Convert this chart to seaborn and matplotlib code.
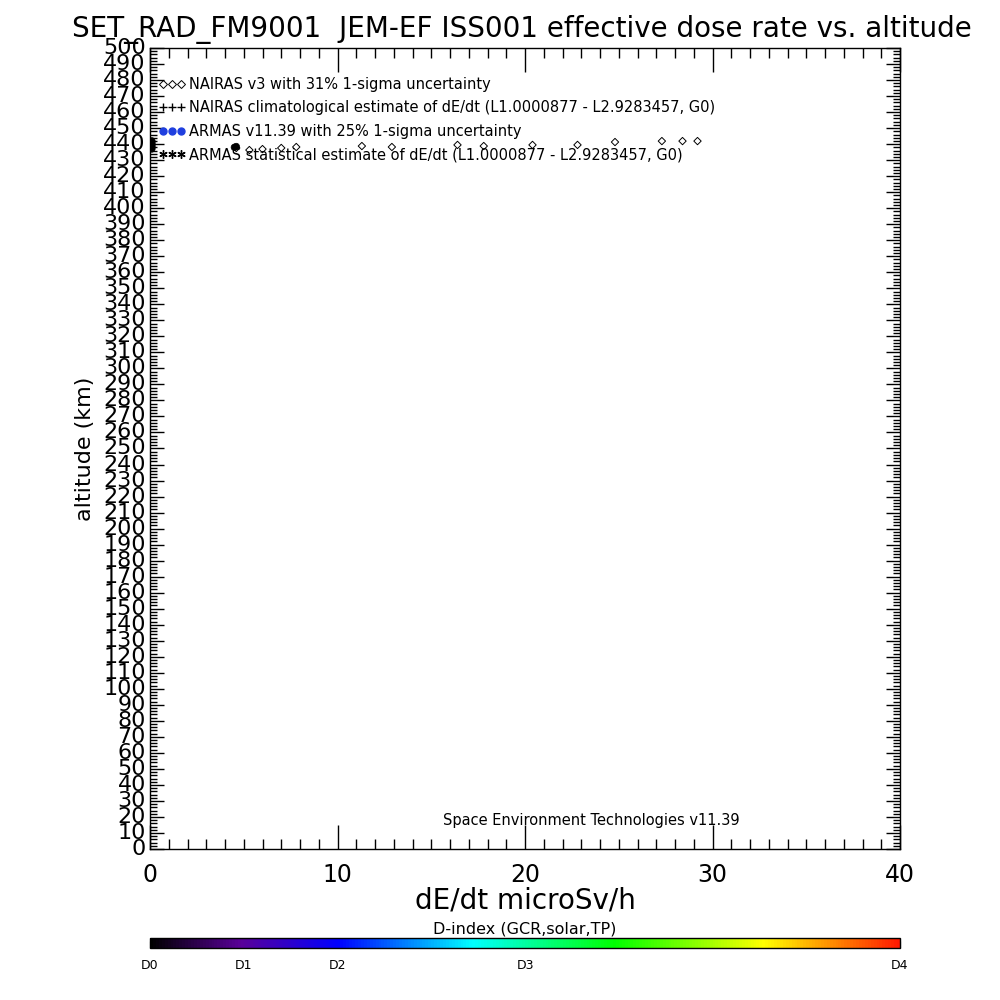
import numpy as np
import pandas as pd
import matplotlib
matplotlib.use("Agg")
import matplotlib.pyplot as plt
import seaborn as sns
from matplotlib.lines import Line2D
from matplotlib.colors import LinearSegmentedColormap, Normalize
from matplotlib.ticker import MultipleLocator
import matplotlib.cm as cm

# ---- data ----
nairas_dose = [4.6, 5.3, 6.0, 7.0, 7.8, 11.3, 12.9, 16.4, 17.8, 20.4, 22.8, 24.8, 27.3, 28.4, 29.2]
nairas_alt = [437.6, 436.3, 436.9, 437.6, 438.2, 438.8, 438.2, 439.5, 438.8, 439.5, 439.5, 441.3, 441.9, 441.9, 441.9]
armas_dose = [0.1, 0.1, 0.1, 0.1, 0.1, 0.1, 4.5, 4.6]
armas_alt = [437.0, 438.0, 439.0, 440.0, 441.0, 442.0, 438.0, 438.5]
armas_dindex = [0, 0, 0, 0, 0, 0, 0, 0]

legend_labels = [
    "NAIRAS v3 with 31% 1-sigma uncertainty",
    "NAIRAS climatological estimate of dE/dt (L1.0000877 - L2.9283457, G0)",
    "ARMAS v11.39 with 25% 1-sigma uncertainty",
    "ARMAS statistical estimate of dE/dt (L1.0000877 - L2.9283457, G0)",
]
cbar_tick_labels = ["D0", "D1", "D2", "", "D3", "", "", "", "D4"]

title = "SET_RAD_FM9001  JEM-EF ISS001 effective dose rate vs. altitude"

sns.set_theme(style="white")
plt.rcParams["font.family"] = ["DejaVu Sans"]
plt.rcParams.update({"text.color": "black", "axes.labelcolor": "black",
                     "xtick.color": "black", "ytick.color": "black"})

fig = plt.figure(figsize=(10, 10), dpi=100)
ax = fig.add_axes([0.15, 0.151, 0.75, 0.801])

cmap = LinearSegmentedColormap.from_list(
    "dindex",
    [(0.0, (0, 0, 0)), (0.12, (0.35, 0.0, 0.6)), (0.25, (0.0, 0.0, 1.0)),
     (0.43, (0.0, 1.0, 1.0)), (0.62, (0.0, 1.0, 0.0)), (0.82, (1.0, 1.0, 0.0)),
     (0.9, (1.0, 0.6, 0.0)), (1.0, (1.0, 0.1, 0.0))])
norm = Normalize(0, 8)

dfn = pd.DataFrame({"dose": nairas_dose, "alt": nairas_alt})
dfa = pd.DataFrame({"dose": armas_dose, "alt": armas_alt, "d": armas_dindex})

sns.scatterplot(data=dfa, x="dose", y="alt", ax=ax, marker="o", s=22,
                color=[cmap(norm(v)) for v in armas_dindex], edgecolor="black",
                linewidth=0.5, legend=False, zorder=3)
sns.scatterplot(data=dfn, x="dose", y="alt", ax=ax, marker="D", s=14,
                facecolor="none", edgecolor="black", linewidth=0.7,
                legend=False, zorder=4)

ax.set_xlim(0, 40)
ax.set_ylim(0, 500)
ax.xaxis.set_major_locator(MultipleLocator(10))
ax.xaxis.set_minor_locator(MultipleLocator(1))
ax.yaxis.set_major_locator(MultipleLocator(10))
ax.yaxis.set_minor_locator(MultipleLocator(2))
ax.tick_params(axis="x", which="major", direction="in", length=17, width=1,
               top=True, bottom=True, labelsize=17, pad=10, color="black")
ax.tick_params(axis="x", which="minor", direction="in", length=7, width=1,
               top=True, bottom=True, color="black")
ax.tick_params(axis="y", which="major", direction="in", length=10, width=1,
               left=True, right=True, labelsize=16, pad=3, color="black")
ax.tick_params(axis="y", which="minor", direction="in", length=5, width=1,
               left=True, right=True, color="black")
for lab in ax.get_yticklabels():
    lab.set_verticalalignment("center")
for s in ax.spines.values():
    s.set_color("black")
    s.set_linewidth(1)

ax.set_xlabel("dE/dt microSv/h", fontsize=20, labelpad=0)
ax.set_ylabel("altitude (km)", fontsize=16, labelpad=6)
ax.grid(False)

handles = [
    Line2D([], [], marker="D", markersize=4, markerfacecolor="none",
           markeredgecolor="black", markeredgewidth=0.7, linestyle="none"),
    Line2D([], [], marker="+", markersize=6, color="black", linestyle="none"),
    Line2D([], [], marker="o", markersize=5, color="#1f3fdf", linestyle="none"),
    Line2D([], [], marker=(6, 2, 0), markersize=6, color="black", linestyle="none"),
]
ax.legend(handles, legend_labels, loc="upper left", bbox_to_anchor=(0.0, 0.975),
          frameon=False, numpoints=3, handlelength=1.8, handletextpad=0.3,
          labelspacing=0.58, borderaxespad=0.2, fontsize=10.5)

ax.text(0.589, 0.036, "Space Environment Technologies v11.39", transform=ax.transAxes,
        fontsize=10.5, ha="center", va="center")

fig.text(0.522, 0.97, title, fontsize=20, ha="center", va="center")

cax = fig.add_axes([0.15, 0.052, 0.75, 0.01])
cb = fig.colorbar(cm.ScalarMappable(norm=norm, cmap=cmap), cax=cax,
                  orientation="horizontal", ticks=range(9))
cb.ax.set_xticklabels(cbar_tick_labels, fontsize=9)
cb.ax.tick_params(direction="in", length=5, width=0.8, pad=8, color="black")
cb.outline.set_edgecolor("black")
cb.outline.set_linewidth(1)
cb.ax.set_title("D-index (GCR,solar,TP)", fontsize=11.5, pad=3)

fig.savefig("out.png", dpi=100, facecolor="white")
